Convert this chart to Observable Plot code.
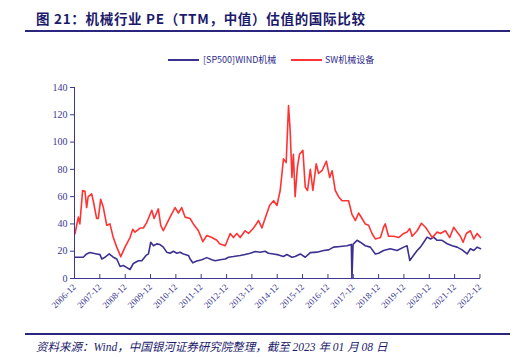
<!DOCTYPE html>
<html>
<head>
<meta charset="utf-8">
<script src="https://cdn.jsdelivr.net/npm/d3@7"></script>
<script src="https://cdn.jsdelivr.net/npm/@observablehq/plot@0.6"></script>
<style>
  html, body { margin: 0; padding: 0; background: #fff; }
  #wrap { position: relative; width: 527px; height: 357px; overflow: hidden; }
  #title { position: absolute; left: 36px; top: 8px; font-family: "Noto Sans CJK SC", sans-serif; font-weight: 700; font-size: 13.5px; color: #1c1a6b; white-space: nowrap; letter-spacing: 0.7px; }
  .rule { position: absolute; left: 25px; width: 485px; height: 2px; background: #2a2680; }
  #legend { position: absolute; top: 53px; left: 0; width: 527px; height: 14px; font-family: "Noto Sans CJK SC", "DejaVu Sans Mono", monospace; font-size: 9px; color: #2e2a8a; }
  .sw { position: absolute; top: 6px; width: 31px; height: 2px; }
  .lt { position: absolute; top: 0px; white-space: nowrap; line-height: 14px; }
  #caption { position: absolute; left: 36px; top: 338px; font-family: "Liberation Serif", "Noto Sans CJK SC", serif; font-style: italic; font-size: 11.5px; color: #1c1a6b; white-space: nowrap; }
  #chart { position: absolute; left: 0; top: 70px; }
</style>
</head>
<body>
<div id="wrap">
  <div id="title">图 21：机械行业 PE（TTM，中值）估值的国际比较</div>
  <div class="rule" style="top:30px"></div>
  <div id="legend"></div>
  <div id="chart"></div>
  <div class="rule" style="top:333px"></div>
  <div id="caption">资料来源：Wind，中国银河证券研究院整理，截至 2023 年 01 月 08 日</div>
</div>
<script>
const seriesNames = ["[SP500]WIND机械", "SW机械设备"];
const seriesColors = ["#3b3190", "#ff3333"];

const windDates = ["2007-01-07","2007-05-06","2007-06-24","2007-08-09","2007-11-15","2008-01-03","2008-01-28","2008-03-15","2008-05-15","2008-07-12","2008-08-31","2008-10-18","2008-12-04","2009-01-24","2009-03-10","2009-04-27","2009-07-09","2009-08-27","2009-10-27","2009-12-01","2010-01-03","2010-02-11","2010-03-31","2010-05-16","2010-07-03","2010-08-21","2010-10-08","2010-11-25","2011-01-14","2011-03-02","2011-04-19","2011-06-30","2011-07-24","2011-09-01","2011-10-29","2012-01-09","2012-03-21","2012-06-02","2012-07-20","2012-09-30","2012-12-12","2013-01-28","2013-04-09","2013-07-15","2013-09-24","2013-12-07","2014-02-18","2014-05-01","2014-07-09","2014-08-27","2014-11-09","2015-01-19","2015-03-31","2015-05-19","2015-07-31","2015-09-15","2015-11-28","2016-02-08","2016-04-21","2016-07-25","2016-10-31","2017-01-10","2017-03-22","2017-06-28","2017-10-02","2017-12-03","2017-12-12","2017-12-28","2018-02-24","2018-04-12","2018-06-22","2018-09-03","2018-11-14","2019-01-01","2019-03-13","2019-06-17","2019-09-24","2019-12-28","2020-02-14","2020-03-25","2020-05-19","2020-07-09","2020-08-25","2020-10-12","2020-11-30","2021-01-18","2021-03-04","2021-04-22","2021-07-03","2021-09-15","2021-11-27","2022-02-05","2022-04-19","2022-06-30","2022-08-15","2022-10-03","2022-11-21","2023-01-08"];
const windValues = [15.6,15.6,18,19,18,17.5,14.3,15.6,18,15.6,14.3,8.8,9.5,8,6.6,11,13,13,16.9,18,26.6,24,25.4,24.9,23,19.3,18.5,20,18.5,19.3,18,16.9,14.3,11.5,12.8,13.8,15.3,13.8,13,13.8,14.3,15.6,16.1,16.9,17.6,18.5,19.8,19.3,20,18.5,18,17.3,16.1,17.6,15.6,16.1,18,15.6,19,19.3,20.5,21,23,23.5,24,25,0,25,28,26.6,24,23,18,18.5,20.5,21.8,20.5,23,24,13.2,17,20.5,23,26.6,30.3,29,30.3,28,28,25.5,24,23,21,18,21.8,20.5,23,21.8];

const swDates = ["2007-01-07","2007-02-24","2007-03-18","2007-04-27","2007-05-31","2007-06-24","2007-07-16","2007-09-05","2007-09-27","2007-11-15","2007-12-09","2008-01-12","2008-02-20","2008-04-09","2008-05-25","2008-07-12","2008-08-31","2008-10-28","2008-12-28","2009-03-10","2009-04-18","2009-05-21","2009-08-03","2009-09-18","2009-11-06","2010-01-18","2010-02-21","2010-04-22","2010-05-27","2010-07-03","2010-08-21","2010-10-08","2010-12-20","2011-02-05","2011-03-25","2011-05-12","2011-07-24","2011-09-09","2011-11-21","2012-01-24","2012-03-21","2012-06-02","2012-08-13","2012-09-21","2012-12-12","2013-02-21","2013-04-09","2013-05-28","2013-07-15","2013-09-24","2013-11-12","2014-01-24","2014-04-06","2014-05-24","2014-07-09","2014-09-12","2014-11-09","2014-12-27","2015-02-12","2015-03-31","2015-05-09","2015-06-12","2015-07-06","2015-07-31","2015-08-21","2015-09-15","2015-10-18","2015-11-17","2016-01-05","2016-02-08","2016-03-12","2016-04-21","2016-05-28","2016-07-15","2016-08-18","2016-10-06","2016-12-09","2017-01-25","2017-03-01","2017-04-16","2017-06-03","2017-07-22","2017-09-08","2017-10-25","2017-12-12","2018-01-31","2018-03-18","2018-05-06","2018-06-22","2018-08-09","2018-09-27","2018-11-14","2019-01-27","2019-03-13","2019-04-06","2019-05-24","2019-08-05","2019-10-16","2019-12-28","2020-02-14","2020-03-24","2020-04-28","2020-07-09","2020-09-09","2020-11-05","2020-12-24","2021-02-11","2021-04-22","2021-06-09","2021-08-21","2021-10-22","2021-12-18","2022-02-05","2022-03-24","2022-05-02","2022-06-18","2022-08-15","2022-10-03","2022-11-21","2023-01-08"];
const swValues = [32.8,45,40,64.5,64,52,60,62,57,44,44,58,52,39,40,30,23,16,23,30,36,34,37,37,41,50,44,51,39,35,40,45,52,48,52,45,44,40,35,27,31.5,30,28,25.5,24,33,30,33,30,35,33,37,42.5,37,44,53.5,57,53.5,64.5,87.7,85,126.8,108,74,91,60,81.6,91,94,67,64.5,80,64.5,84,77,79,86,74,79,64.5,60,57,57,57,47,42.5,48,44,40,39,33,29,30,37.6,40,31,31,30,33,34,36.6,31,35,40.5,37.6,34,30,34,33,35,30,37.6,34,31,26.6,33,35,29,33,30];

const xTickLabels = ["2006-12","2007-12","2008-12","2009-12","2010-12","2011-12","2012-12","2013-12","2014-12","2015-12","2016-12","2017-12","2018-12","2019-12","2020-12","2021-12","2022-12"];
const yTicks = [0,20,40,60,80,100,120,140];
const xDomain = ["2006-12-31","2023-01-08"];

const data = [
  ...windDates.map((d, i) => ({date: new Date(d), value: windValues[i], series: seriesNames[0]})),
  ...swDates.map((d, i) => ({date: new Date(d), value: swValues[i], series: seriesNames[1]}))
];
const xTicks = xTickLabels.map(s => new Date(s + "-31"));
const labelOf = new Map(xTicks.map((d, i) => [+d, xTickLabels[i]]));

const axisColor = "#3a3890";
const chart = Plot.plot({
  width: 527,
  height: 250,
  marginLeft: 74,
  marginRight: 47,
  marginTop: 17,
  marginBottom: 42,
  style: {fontFamily: "'Liberation Serif', serif", fontSize: "10px", color: axisColor, background: "transparent"},
  x: {type: "utc", domain: xDomain.map(s => new Date(s))},
  y: {domain: [0, 140]},
  color: {domain: seriesNames, range: seriesColors},
  marks: [
    Plot.axisY({ticks: yTicks, tickSize: 4, tickPadding: 3, label: null, color: axisColor, fontSize: 10}),
    Plot.axisX({ticks: xTicks, tickSize: -4, tickFormat: () => "", label: null, color: axisColor}),
    Plot.axisX({ticks: xTicks, tickSize: 0, tickPadding: 7, tickRotate: -45, tickFormat: d => labelOf.get(+d), label: null, color: axisColor, fontSize: 9}),
    Plot.lineY(data, {x: "date", y: "value", z: "series", stroke: "series", strokeWidth: 1.6}),
    Plot.ruleX([new Date(xDomain[0])], {stroke: axisColor, strokeWidth: 1}),
    Plot.ruleY([0], {stroke: axisColor, strokeWidth: 1})
  ]
});
document.getElementById("chart").appendChild(chart);

// legend
const legend = document.getElementById("legend");
const legendPos = [[168, 203], [291, 325]];
seriesNames.forEach((name, i) => {
  const sw = document.createElement("div");
  sw.className = "sw";
  sw.style.left = legendPos[i][0] + "px";
  sw.style.background = seriesColors[i];
  legend.appendChild(sw);
  const t = document.createElement("div");
  t.className = "lt";
  t.style.left = legendPos[i][1] + "px";
  t.textContent = name;
  legend.appendChild(t);
});
</script>
</body>
</html>
